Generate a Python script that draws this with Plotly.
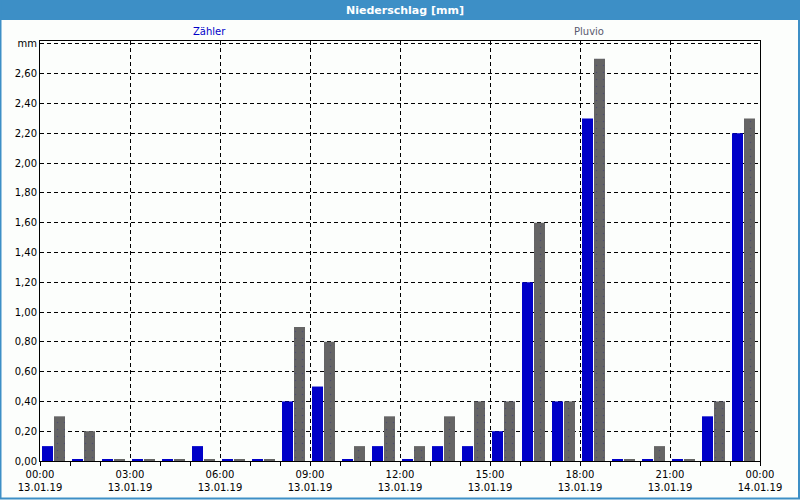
import numpy as np
import pandas as pd
import plotly.graph_objects as go

# Hourly precipitation, 13.01.19 00:00 - 14.01.19 00:00
hours = pd.date_range("2019-01-13 00:00", periods=24, freq="h")
zaehler = [0.10, 0.00, 0.00, 0.00, 0.00, 0.10, 0.00, 0.00, 0.40, 0.50, 0.00, 0.10,
           0.00, 0.10, 0.10, 0.20, 1.20, 0.40, 2.30, 0.00, 0.00, 0.00, 0.30, 2.20]
pluvio = [0.30, 0.20, 0.00, 0.00, 0.00, 0.00, 0.00, 0.00, 0.90, 0.80, 0.10, 0.30,
          0.10, 0.30, 0.40, 0.40, 1.60, 0.40, 2.70, 0.00, 0.10, 0.00, 0.40, 2.30]

y_ticks = [0.0, 0.2, 0.4, 0.6, 0.8, 1.0, 1.2, 1.4, 1.6, 1.8, 2.0, 2.2, 2.4, 2.6, 2.8]
y_labels = [f"{v:.2f}".replace(".", ",") for v in y_ticks[:-1]] + ["mm"]

x_ticks = pd.date_range("2019-01-13 00:00", "2019-01-14 00:00", freq="3h")
x_labels = [t.strftime("%H:%M") + "<br>" + t.strftime("%d.%m.%y") for t in x_ticks]

BLUE = "#0000c8"
GREY = "#656565"
FRAME = "#3d8fc6"
FONT = "DejaVu Sans"

# zero values still get a hairline bar like in the original software
stub = 0.008
px = 120000  # ms per pixel (30 px per hour)

fig = go.Figure()
fig.add_trace(go.Bar(x=hours, y=np.maximum(zaehler, stub), name="Zähler",
                     marker=dict(color=BLUE, line=dict(width=0)),
                     offset=2 * px, width=11 * px))
fig.add_trace(go.Bar(x=hours, y=np.maximum(pluvio, stub), name="Pluvio",
                     marker=dict(color=GREY, line=dict(width=0),
                                 pattern=dict(shape=".", fgcolor="#3a3a7a",
                                              size=7, solidity=0.04)),
                     offset=14 * px, width=11 * px))

W, H = 800, 500
L, R, T, B = 40, 40, 41, 39
pw, ph = W - L - R, H - T - B


def px_x(x):
    return (x - L) / pw


def px_y(y):
    return 1 - (y - T) / ph


shapes = [
    # header bar
    dict(type="rect", xref="paper", yref="paper", x0=px_x(0), x1=px_x(W),
         y0=px_y(20), y1=px_y(0), fillcolor=FRAME, line=dict(width=0), layer="below"),
    # window border
    dict(type="rect", xref="paper", yref="paper", x0=px_x(0.5), x1=px_x(W - 1),
         y0=px_y(H - 1.5), y1=px_y(0), fillcolor="rgba(0,0,0,0)",
         line=dict(color=FRAME, width=2)),
]

annotations = [
    dict(text="<b>Niederschlag [mm]</b>", xref="paper", yref="paper", x=px_x(405),
         y=px_y(10), showarrow=False, font=dict(family=FONT, size=11, color="white"),
         xanchor="center", yanchor="middle"),
    dict(text="Zähler", xref="paper", yref="paper", x=px_x(209), y=px_y(31),
         showarrow=False, font=dict(family=FONT, size=10, color=BLUE),
         xanchor="center", yanchor="middle"),
    dict(text="Pluvio", xref="paper", yref="paper", x=px_x(589), y=px_y(31),
         showarrow=False, font=dict(family=FONT, size=10, color="#5a5a6e"),
         xanchor="center", yanchor="middle"),
]

fig.update_layout(
    width=W, height=H,
    margin=dict(l=L, r=R, t=T, b=B, autoexpand=False),
    paper_bgcolor="#fcfefc", plot_bgcolor="#fcfefc",
    barmode="overlay", showlegend=False,
    font=dict(family=FONT, size=10, color="black"),
    shapes=shapes, annotations=annotations,
)
fig.update_xaxes(
    type="date", range=[x_ticks[0], x_ticks[-1]],
    tickvals=x_ticks, ticktext=x_labels,
    ticks="outside", ticklen=4, tickcolor="black",
    minor=dict(dtick=3600000, tick0="2019-01-13", ticks="outside", ticklen=4,
               tickcolor="black", showgrid=False),
    showgrid=True, gridcolor="black", gridwidth=1, griddash="4px,3px",
    showline=True, linecolor="black", linewidth=1, mirror=True,
    zeroline=False, fixedrange=True, automargin=False,
)
fig.update_yaxes(
    range=[0, 2.82], tickvals=y_ticks, ticktext=y_labels,
    showgrid=True, gridcolor="black", gridwidth=1, griddash="4px,3px",
    showline=True, linecolor="black", linewidth=1, mirror=True,
    zeroline=False, ticks="", fixedrange=True, automargin=False,
)

# page body has a default 8px margin; drop it so the chart fills the window
fig.write_html("out.html", config={"displayModeBar": False},
               post_script="document.body.style.margin='0';")
